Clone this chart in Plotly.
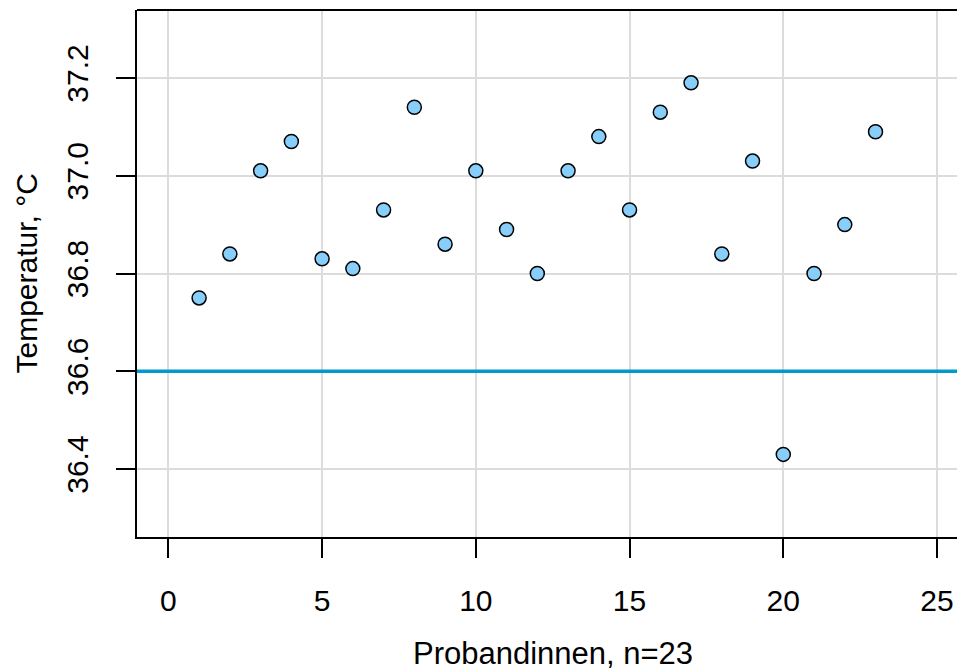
import plotly.graph_objects as go

proband = list(range(1, 24))
temperatur = [36.75, 36.84, 37.01, 37.07, 36.83, 36.81, 36.93, 37.14, 36.86, 37.01,
              36.89, 36.80, 37.01, 37.08, 36.93, 37.13, 37.19, 36.84, 37.03, 36.43,
              36.80, 36.90, 37.09]
referenz = 36.6
x_ticks = [0, 5, 10, 15, 20, 25]
y_ticks = [36.4, 36.6, 36.8, 37.0, 37.2]

FONT = "Liberation Sans, Arial, sans-serif"

fig = go.Figure()
fig.add_trace(go.Scatter(
    x=proband, y=temperatur, mode="markers",
    marker=dict(size=14, color="#87CEFA", line=dict(color="black", width=1.5)),
    showlegend=False, cliponaxis=False,
))

fig.add_shape(type="line", xref="paper", yref="y", x0=0, x1=1, y0=referenz, y1=referenz,
              line=dict(color="#009ACD", width=3.5), layer="above")
# top border
fig.add_shape(type="line", xref="paper", yref="paper", x0=0, x1=1, y0=1, y1=1,
              line=dict(color="black", width=2))

fig.update_layout(
    width=957, height=670,
    margin=dict(l=137, r=0, t=10, b=133),
    paper_bgcolor="white", plot_bgcolor="white",
    font=dict(family=FONT, size=30, color="black"),
    xaxis=dict(range=[-1.02, 25.65], tickvals=x_ticks, ticks="outside", ticklen=19,
               tickwidth=2, tickcolor="black", showline=True, linecolor="black", linewidth=2,
               showgrid=True, gridcolor="#DCDCDC", gridwidth=1.5, zeroline=False,
               ticklabelstandoff=17, tickfont=dict(size=30)),
    yaxis=dict(range=[36.261, 37.339], tickvals=y_ticks, ticktext=[f"{v:.1f}" for v in y_ticks],
               ticks="outside", ticklen=19, tickwidth=2, tickcolor="black",
               showline=True, linecolor="black", linewidth=2, tickangle=-90,
               showgrid=True, gridcolor="#DCDCDC", gridwidth=1.5, zeroline=False,
               ticklabelstandoff=16, tickfont=dict(size=30)),
    annotations=[
        dict(text="Probandinnen, n=23", xref="paper", yref="paper", x=(553-137)/820, y=0,
             yshift=-116, showarrow=False, xanchor="center", yanchor="middle",
             font=dict(size=31)),
        dict(text="Temperatur, °C", xref="paper", yref="paper", x=0, y=0.5,
             xshift=-111, showarrow=False, xanchor="center", yanchor="middle",
             textangle=-90, font=dict(size=30)),
    ],
)

fig.write_html("out.html")
